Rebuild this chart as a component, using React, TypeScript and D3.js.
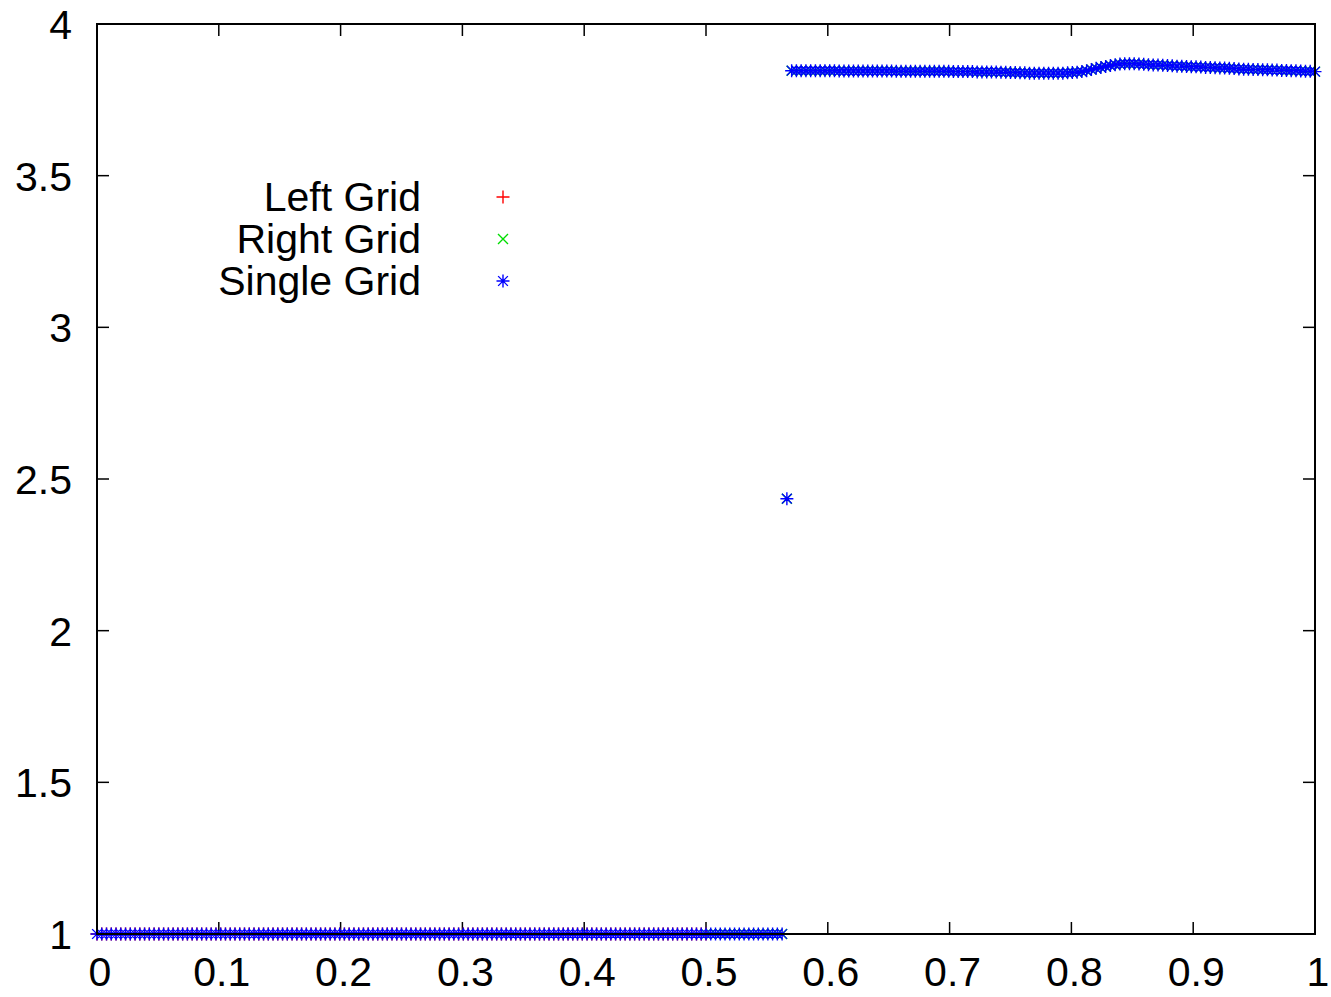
import { useEffect, useRef } from 'react'
import * as d3 from 'd3'

const xTicks = [0, 0.1, 0.2, 0.3, 0.4, 0.5, 0.6, 0.7, 0.8, 0.9, 1]
const xTickLabels = ['0', '0.1', '0.2', '0.3', '0.4', '0.5', '0.6', '0.7', '0.8', '0.9', '1']
const yTicks = [1, 1.5, 2, 2.5, 3, 3.5, 4]
const yTickLabels = ['1', '1.5', '2', '2.5', '3', '3.5', '4']

const seriesNames = ['Left Grid', 'Right Grid', 'Single Grid']

// cells on [0, 1], point i sits at i / cellCount
const cellCount = 256
const leftLast = 128 // left grid covers [0, 0.5], right grid [0.5, 1]

// single grid solution
const singleGrid = [
  // low state (i = 0..144)
  1, 1, 1, 1, 1, 1, 1, 1, 1, 1, 1, 1, 1, 1, 1, 1, 1, 1, 1, 1, 1, 1, 1, 1, 1, 1, 1, 1, 1,
  1, 1, 1, 1, 1, 1, 1, 1, 1, 1, 1, 1, 1, 1, 1, 1, 1, 1, 1, 1, 1, 1, 1, 1, 1, 1, 1, 1, 1,
  1, 1, 1, 1, 1, 1, 1, 1, 1, 1, 1, 1, 1, 1, 1, 1, 1, 1, 1, 1, 1, 1, 1, 1, 1, 1, 1, 1, 1,
  1, 1, 1, 1, 1, 1, 1, 1, 1, 1, 1, 1, 1, 1, 1, 1, 1, 1, 1, 1, 1, 1, 1, 1, 1, 1, 1, 1, 1,
  1, 1, 1, 1, 1, 1, 1, 1, 1, 1, 1, 1, 1, 1, 1, 1, 1, 1, 1, 1, 1, 1, 1, 1, 1, 1, 1, 1, 1,
  // jump cell
  2.435,
  // high state (i = 146..256)
  3.846, 3.846, 3.846, 3.846, 3.846, 3.846, 3.846, 3.846, 3.846, 3.846,
  3.845, 3.845, 3.845, 3.845, 3.845, 3.845, 3.845, 3.845, 3.845, 3.845, 3.845, 3.845,
  3.844, 3.844, 3.844, 3.844, 3.844, 3.844, 3.844, 3.844, 3.844, 3.844, 3.844, 3.844,
  3.843, 3.843, 3.843, 3.843, 3.843, 3.842, 3.842, 3.842, 3.842, 3.842,
  3.841, 3.841, 3.840, 3.840, 3.839, 3.839, 3.838, 3.838,
  3.838, 3.838, 3.838, 3.838, 3.838, 3.838, 3.839, 3.840,
  3.841, 3.843, 3.846, 3.850, 3.854, 3.857, 3.860, 3.863, 3.866,
  3.868, 3.869, 3.869, 3.869, 3.868, 3.867, 3.866, 3.865,
  3.865, 3.864, 3.863, 3.862, 3.861, 3.861, 3.860, 3.859, 3.859,
  3.858, 3.857, 3.857, 3.856, 3.855, 3.855, 3.854, 3.853, 3.852, 3.851, 3.851,
  3.850, 3.850, 3.849, 3.849, 3.848, 3.848, 3.847, 3.847, 3.846, 3.846, 3.845, 3.844, 3.844, 3.843
]

const leftGrid = singleGrid.slice(0, leftLast + 1)
const rightGrid = singleGrid.slice(leftLast)

type Pt = { x: number, y: number }

function markerPath(kind: string, cx: number, cy: number, r: number) {
  const p = d3.path()
  if (kind === 'plus' || kind === 'star') {
    p.moveTo(cx - r, cy); p.lineTo(cx + r, cy)
    p.moveTo(cx, cy - r); p.lineTo(cx, cy + r)
  }
  if (kind === 'cross' || kind === 'star') {
    const k = kind === 'star' ? r * 0.75 : r
    p.moveTo(cx - k, cy - k); p.lineTo(cx + k, cy + k)
    p.moveTo(cx - k, cy + k); p.lineTo(cx + k, cy - k)
  }
  return p.toString()
}

export default function App() {
  const svgRef = useRef<SVGSVGElement>(null)

  useEffect(() => {
    if (!svgRef.current) return
    const svg = d3.select(svgRef.current)
    svg.selectAll('*').remove()

    const left = 97, right = 1315, top = 24, bottom = 934
    const font = '"Liberation Sans", Arial, Helvetica, sans-serif'
    const fontSize = 41
    const tickLen = 12

    const x = d3.scaleLinear().domain([0, 1]).range([left, right])
    const y = d3.scaleLinear().domain([1, 4]).range([bottom, top])

    const series = [
      { name: seriesNames[0], values: leftGrid, start: 0, color: '#ff0000', kind: 'plus', r: 6.5 },
      { name: seriesNames[1], values: rightGrid, start: leftLast, color: '#00dd00', kind: 'cross', r: 5 },
      { name: seriesNames[2], values: singleGrid, start: 0, color: '#0000ff', kind: 'star', r: 6.5 }
    ]

    svg.append('rect').attr('width', 1331).attr('height', 997).attr('fill', '#ffffff')

    // ticks on all four sides, pointing in
    const ticks = svg.append('g').attr('stroke', '#000').attr('stroke-width', 1.5)
    xTicks.forEach(t => {
      ticks.append('line').attr('x1', x(t)).attr('x2', x(t)).attr('y1', bottom).attr('y2', bottom - tickLen)
      ticks.append('line').attr('x1', x(t)).attr('x2', x(t)).attr('y1', top).attr('y2', top + tickLen)
    })
    yTicks.forEach(t => {
      ticks.append('line').attr('x1', left).attr('x2', left + tickLen).attr('y1', y(t)).attr('y2', y(t))
      ticks.append('line').attr('x1', right).attr('x2', right - tickLen).attr('y1', y(t)).attr('y2', y(t))
    })

    // tick labels
    svg.append('g').selectAll('text').data(xTicks).join('text')
      .attr('x', d => x(d) + 3)
      .attr('y', 986)
      .attr('text-anchor', 'middle')
      .attr('font-family', font)
      .attr('font-size', fontSize)
      .text((d, i) => xTickLabels[i])

    svg.append('g').selectAll('text').data(yTicks).join('text')
      .attr('x', 72)
      .attr('y', d => y(d) + 15)
      .attr('text-anchor', 'end')
      .attr('font-family', font)
      .attr('font-size', fontSize)
      .text((d, i) => yTickLabels[i])

    // data markers
    series.forEach(s => {
      const pts: Pt[] = s.values.map((v, i) => ({ x: (s.start + i) / cellCount, y: v }))
      svg.append('path')
        .attr('fill', 'none')
        .attr('stroke', s.color)
        .attr('stroke-width', 1.4)
        .attr('d', pts.map(p => markerPath(s.kind, x(p.x), y(p.y), s.r)).join(''))
    })

    // legend
    const legend = svg.append('g')
    series.forEach((s, i) => {
      const base = 211 + i * 42
      legend.append('text')
        .attr('x', 421)
        .attr('y', base)
        .attr('text-anchor', 'end')
        .attr('font-family', font)
        .attr('font-size', fontSize)
        .text(s.name)
      legend.append('path')
        .attr('fill', 'none')
        .attr('stroke', s.color)
        .attr('stroke-width', 1.4)
        .attr('d', markerPath(s.kind, 503, base - 14, s.r))
    })

    // frame
    svg.append('rect')
      .attr('x', left).attr('y', top)
      .attr('width', right - left).attr('height', bottom - top)
      .attr('fill', 'none')
      .attr('stroke', '#000')
      .attr('stroke-width', 2)
  }, [])

  return (
    <svg ref={svgRef} width={1331} height={997}
      style={{ position: 'absolute', left: 0, top: 0, display: 'block' }} />
  )
}
